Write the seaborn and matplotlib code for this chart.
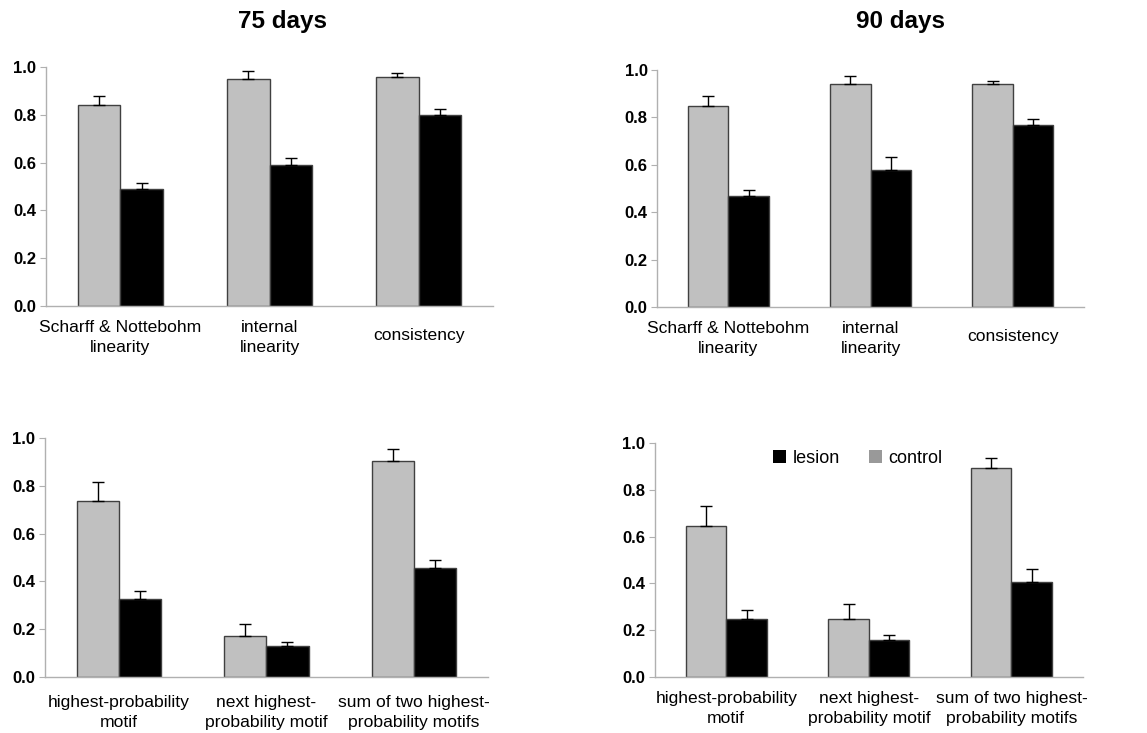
import seaborn as sns
import matplotlib.pyplot as plt
import matplotlib.transforms as mtransforms
from matplotlib.patches import Patch
import pandas as pd

# data
top_cats = ["Scharff & Nottebohm\nlinearity", "internal\nlinearity", "consistency"]
bottom_cats = ["highest-probability\nmotif", "next highest-\nprobability motif",
               "sum of two highest-\nprobability motifs"]

control_75_top = [0.84, 0.95, 0.96]
control_75_top_err = [0.04, 0.035, 0.015]
lesion_75_top = [0.49, 0.59, 0.80]
lesion_75_top_err = [0.025, 0.03, 0.025]

control_90_top = [0.85, 0.94, 0.94]
control_90_top_err = [0.04, 0.035, 0.015]
lesion_90_top = [0.47, 0.58, 0.77]
lesion_90_top_err = [0.025, 0.055, 0.025]

control_75_bot = [0.735, 0.17, 0.905]
control_75_bot_err = [0.08, 0.05, 0.05]
lesion_75_bot = [0.325, 0.13, 0.455]
lesion_75_bot_err = [0.035, 0.015, 0.035]

control_90_bot = [0.645, 0.25, 0.895]
control_90_bot_err = [0.085, 0.06, 0.04]
lesion_90_bot = [0.25, 0.16, 0.405]
lesion_90_bot_err = [0.035, 0.02, 0.055]

yticks = [0.0, 0.2, 0.4, 0.6, 0.8, 1.0]

sns.set_style("white")
plt.rcParams["font.family"] = ["Liberation Sans", "DejaVu Sans"]
plt.rcParams["text.color"] = "black"
plt.rcParams["xtick.labelcolor"] = "black"
plt.rcParams["ytick.labelcolor"] = "black"

fig = plt.figure(figsize=(11.47, 7.33), dpi=100)

panels = [
    ([0.040, 0.5825, 0.390, 0.326], top_cats, control_75_top, control_75_top_err, lesion_75_top, lesion_75_top_err),
    ([0.573, 0.581, 0.372, 0.3235], top_cats, control_90_top, control_90_top_err, lesion_90_top, lesion_90_top_err),
    ([0.039, 0.0764, 0.3865, 0.326], bottom_cats, control_75_bot, control_75_bot_err, lesion_75_bot, lesion_75_bot_err),
    ([0.571, 0.0764, 0.373, 0.3192], bottom_cats, control_90_bot, control_90_bot_err, lesion_90_bot, lesion_90_bot_err),
]

spine_col = "#b0b0b0"
axes = []
for i, (rect, cats, ctrl, ctrl_err, les, les_err) in enumerate(panels):
    ax = fig.add_axes(rect)
    axes.append(ax)
    df = pd.DataFrame({
        "measure": cats * 2,
        "group": ["control"] * 3 + ["lesion"] * 3,
        "value": ctrl + les,
    })
    sns.barplot(data=df, x="measure", y="value", hue="group",
                hue_order=["control", "lesion"],
                palette={"control": "#c0c0c0", "lesion": "black"},
                width=0.57, edgecolor="#404040", linewidth=1.0,
                errorbar=None, legend=False, ax=ax)

    # upward-only error bars on top of each bar
    for cont, errs in zip(ax.containers, [ctrl_err, les_err]):
        xs = [b.get_x() + b.get_width() / 2 for b in cont]
        ys = [b.get_height() for b in cont]
        ax.errorbar(xs, ys, yerr=[[0] * len(errs), errs], fmt="none",
                    ecolor="black", elinewidth=1.0, capsize=4, capthick=1.0, zorder=5)

    ax.set_xlim(-0.5, 2.5)
    ax.set_ylim(0, 1.0)
    ax.set_yticks(yticks)
    ax.set_yticklabels([f"{t:.1f}" for t in yticks], fontsize=12, fontweight="bold")
    ax.set_xticks([0, 1, 2])
    ax.set_xticklabels(cats, fontsize=12.6, linespacing=1.4)
    ax.set_xticks([0.5, 1.5], minor=True)
    ax.tick_params(axis="x", which="major", length=0, pad=13 if i == 2 else 10)
    ax.tick_params(axis="x", which="minor", length=4, color=spine_col, direction="out")
    ax.tick_params(axis="y", length=4, color=spine_col, direction="out", left=True, pad=3)
    ax.set_xlabel("")
    ax.set_ylabel("")
    for s in ["top", "right"]:
        ax.spines[s].set_visible(False)
    for s in ["left", "bottom"]:
        ax.spines[s].set_color(spine_col)
        ax.spines[s].set_linewidth(1.0)

# single-line label sits a little lower
for ax in axes[:2]:
    lab = ax.get_xticklabels()[2]
    lab.set_transform(lab.get_transform() +
                      mtransforms.ScaledTranslation(0, -0.08, fig.dpi_scale_trans))

fig.text(0.246, 0.962, "75 days", fontsize=17.5, fontweight="bold", ha="center", va="baseline")
fig.text(0.785, 0.962, "90 days", fontsize=17.5, fontweight="bold", ha="center", va="baseline")

handles = [Patch(facecolor="black", edgecolor="none"),
           Patch(facecolor="#999999", edgecolor="none")]
axes[3].legend(handles, ["lesion", "control"], ncol=2, frameon=False,
               loc="center left", bbox_to_anchor=(0.275, 0.935),
               borderaxespad=0, borderpad=0, fontsize=13,
               handlelength=0.75, handleheight=0.75, handletextpad=0.35,
               columnspacing=1.6)

fig.savefig("out.png", dpi=100)
